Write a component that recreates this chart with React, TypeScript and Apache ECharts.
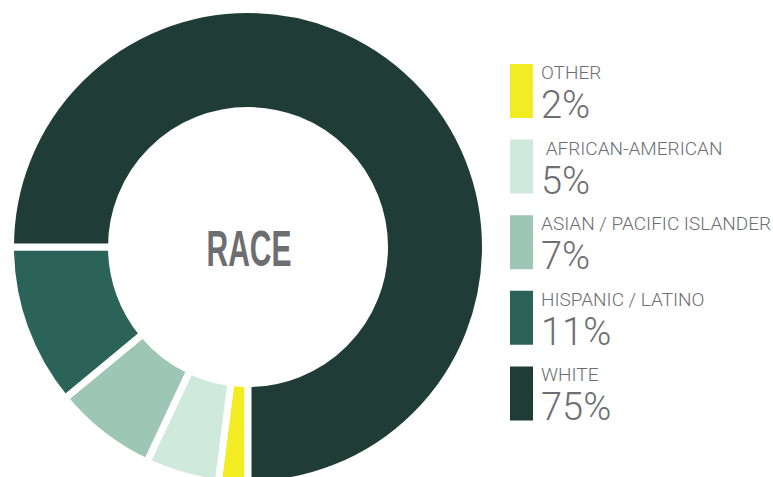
import React, { useEffect, useRef } from "react";
import * as echarts from "echarts";

const categories = ["OTHER", " AFRICAN-AMERICAN", "ASIAN / PACIFIC ISLANDER", "HISPANIC / LATINO", "WHITE"];
const values = [2, 5, 7, 11, 75];
const colors = ["#f4ec22", "#cfe9dc", "#9dc6b7", "#2c6358", "#1f3d36"];
const centerTitle = "RACE";

export default function App() {
  const ref = useRef<HTMLDivElement>(null);
  useEffect(() => {
    document.body.style.margin = "0";
    const chart = echarts.init(ref.current!, null, { renderer: "svg" });
    const legendTop = 64;
    const legendStep = 75.6;
    const graphics: any[] = [];
    categories.forEach((c, i) => {
      const top = legendTop + i * legendStep;
      graphics.push({
        type: "rect",
        shape: { x: 510, y: top, width: 23, height: 54 },
        style: { fill: colors[i] },
      });
      graphics.push({
        type: "text",
        x: 541,
        y: top + 8.5,
        style: {
          text: c,
          fill: "#6d6e71",
          font: "300 19px Roboto",
          lineHeight: 16,
          verticalAlign: "middle",
          align: "left",
        },
      });
      graphics.push({
        type: "text",
        x: 541,
        y: top + 41,
        style: {
          text: values[i] + "%",
          fill: "#6d6e71",
          font: "300 38px Roboto",
          lineHeight: 30,
          verticalAlign: "middle",
          align: "left",
        },
      });
    });
    graphics.push({
      type: "text",
      x: 249,
      y: 249,
      z: 100,
      scaleX: 0.6,
      style: {
        text: centerTitle,
        fill: "#6d6e71",
        font: "bold 50px 'Liberation Sans'",
        align: "center",
        verticalAlign: "middle",
      },
    });
    chart.setOption({
      animation: false,
      graphic: graphics,
      series: [
        {
          type: "pie",
          center: [248, 247],
          radius: [136.5, 237.5],
          startAngle: 270,
          clockwise: true,
          label: { show: false },
          labelLine: { show: false },
          emphasis: { disabled: true },
          itemStyle: { borderColor: "#ffffff", borderWidth: 7 },
          data: categories.map((c, i) => ({
            name: c,
            value: values[i],
            itemStyle: { color: colors[i] },
          })),
        },
      ],
    });
    return () => chart.dispose();
  }, []);
  return <div ref={ref} style={{ width: 773, height: 477 }} />;
}
